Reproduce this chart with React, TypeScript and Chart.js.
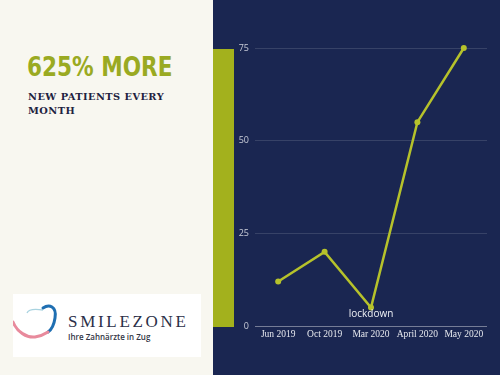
import React, { useEffect, useRef } from "react";
import { Chart, registerables } from "chart.js";

Chart.register(...registerables);

const categories = ["Jun 2019", "Oct 2019", "Mar 2020", "April 2020", "May 2020"];
const newPatients = [12, 20, 5, 55, 75];
const pointNotes = ["", "", "lockdown", "", ""];
const yTicks = [0, 25, 50, 75];

const NAVY = "#1a2651";
const CREAM = "#f8f7f0";
const OLIVE = "#a3b11d";
const LINE = "#b6c22b";

const notesPlugin = {
  id: "pointNotes",
  afterDatasetsDraw(chart: any) {
    const meta = chart.getDatasetMeta(0);
    const ctx = chart.ctx;
    ctx.save();
    ctx.font = "10px 'Open Sans', sans-serif";
    ctx.fillStyle = "#eef0f5";
    ctx.textAlign = "center";
    ctx.textBaseline = "top";
    meta.data.forEach((pt: any, i: number) => {
      const t = pointNotes[i];
      if (t) ctx.fillText(t, pt.x, pt.y + 2);
    });
    ctx.restore();
  },
};

function LineChart() {
  const ref = useRef<HTMLCanvasElement>(null);
  useEffect(() => {
    if (!ref.current) return;
    const chart = new Chart(ref.current, {
      type: "line",
      data: {
        labels: categories,
        datasets: [
          {
            data: newPatients,
            borderColor: LINE,
            backgroundColor: LINE,
            borderWidth: 2.5,
            pointRadius: 3,
            pointBackgroundColor: LINE,
            pointBorderWidth: 0,
            tension: 0,
            clip: false,
          },
        ],
      },
      options: {
        animation: false,
        responsive: false,
        maintainAspectRatio: false,
        layout: { padding: { top: 48, right: 13, bottom: 25, left: 0 } },
        plugins: { legend: { display: false }, tooltip: { enabled: false } },
        scales: {
          x: {
            offset: true,
            grid: { display: false, drawTicks: false },
            border: { display: false },
            ticks: {
              color: "#e6e8ee",
              font: { family: "'Liberation Serif', serif", size: 9.5 },
              padding: 3,
              maxRotation: 0,
              autoSkip: false,
            },
            afterFit: (s: any) => {
              s.height = 24;
            },
          },
          y: {
            min: 0,
            max: 75,
            afterBuildTicks: (s: any) => {
              s.ticks = yTicks.map((v) => ({ value: v }));
            },
            grid: {
              drawTicks: false,
              color: (c: any) =>
                c.tick && c.tick.value === 0 ? "rgba(255,255,255,0.4)" : "rgba(255,255,255,0.13)",
              lineWidth: 1,
            },
            border: { display: false },
            ticks: {
              color: "#c9ccd8",
              font: { family: "'Open Sans', sans-serif", size: 9 },
              padding: 6,
            },
            afterFit: (s: any) => {
              s.width = 22;
            },
          },
        },
      },
      plugins: [notesPlugin],
    });
    return () => chart.destroy();
  }, []);
  return (
    <canvas
      ref={ref}
      width={267}
      height={375}
      style={{ position: "absolute", left: 233, top: 0, width: 267, height: 375 }}
    />
  );
}

function Logo() {
  return (
    <div
      style={{
        position: "absolute",
        left: 13,
        top: 294,
        width: 188,
        height: 63,
        background: "#ffffff",
      }}
    >
      <svg width={60} height={63} style={{ position: "absolute", left: 0, top: 0 }}>
        <path
          d="M 14 19 C 16 14, 24 15, 30 16"
          stroke="#a9d3e0"
          strokeWidth={1.3}
          fill="none"
        />
        <path
          d="M 30 14 C 36 10, 44 12, 42 24 C 41 31, 38 36, 35 38"
          stroke="#1f6fb2"
          strokeWidth={3}
          fill="none"
          strokeLinecap="round"
        />
        <path
          d="M 0 28 C 4 38, 14 44, 22 43 C 28 42, 32 40, 35 38"
          stroke="#e88a9c"
          strokeWidth={3}
          fill="none"
          strokeLinecap="round"
        />
      </svg>
      <div
        style={{
          position: "absolute",
          left: 55,
          top: 19,
          fontFamily: "'Liberation Serif', serif",
          fontSize: 17,
          letterSpacing: 2.7,
          color: "#2b2f48",
          lineHeight: "17px",
          whiteSpace: "nowrap",
        }}
      >
        SMILEZONE
      </div>
      <div
        style={{
          position: "absolute",
          left: 55,
          top: 38,
          fontFamily: "'Open Sans', sans-serif",
          fontWeight: 600,
          fontSize: 8,
          color: "#333645",
          lineHeight: "10px",
          whiteSpace: "nowrap",
        }}
      >
        Ihre Zahnärzte in Zug
      </div>
    </div>
  );
}

export default function App() {
  return (
    <div
      style={{
        position: "fixed",
        left: 0,
        top: 0,
        width: 500,
        height: 375,
        background: CREAM,
        overflow: "hidden",
      }}
    >
      <div
        style={{
          position: "absolute",
          left: 213,
          top: 0,
          width: 287,
          height: 375,
          background: NAVY,
        }}
      />
      <div
        style={{
          position: "absolute",
          left: 213,
          top: 49,
          width: 21,
          height: 278,
          background: OLIVE,
        }}
      />
      <div
        style={{
          position: "absolute",
          left: 27,
          top: 52,
          fontFamily: "'DejaVu Sans Condensed', 'DejaVu Sans', sans-serif",
          fontStretch: "condensed",
          fontWeight: 700,
          fontSize: 24,
          lineHeight: "28px",
          color: "#9aaa22",
          whiteSpace: "nowrap",
          transform: "scaleY(1.1)",
          transformOrigin: "left top",
        }}
      >
        625% MORE
      </div>
      <div
        style={{
          position: "absolute",
          left: 28,
          top: 90,
          width: 185,
          fontFamily: "'DejaVu Serif', serif",
          fontWeight: 700,
          fontSize: 9.8,
          letterSpacing: 0.45,
          lineHeight: "14px",
          color: "#1e2240",
          whiteSpace: "nowrap",
        }}
      >
        NEW PATIENTS EVERY
        <br />
        MONTH
      </div>
      <Logo />
      <LineChart />
    </div>
  );
}
